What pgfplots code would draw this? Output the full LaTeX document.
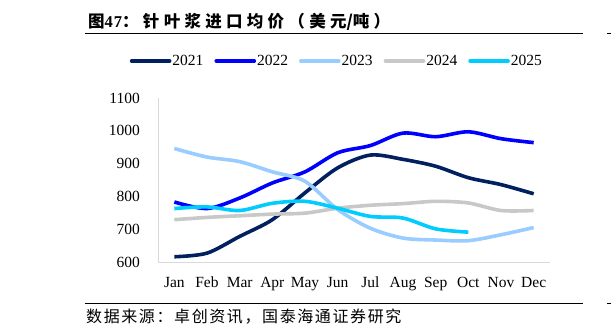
\documentclass[border=0pt]{standalone}
\usepackage{pgfplots}
\pgfplotsset{compat=1.18}
\usepackage{fontspec}
\setmainfont{Liberation Serif}
\newfontfamily\cjk{Noto Sans CJK SC}
\newfontfamily\cjktitle{Noto Sans CJK SC}[LetterSpace=26]
\newfontfamily\cjksrc{Noto Sans CJK SC}[LetterSpace=10]
\newfontfamily\serifwide{Liberation Serif}[LetterSpace=6]

\definecolor{c2021}{HTML}{002060}
\definecolor{c2022}{HTML}{0000FF}
\definecolor{c2023}{HTML}{99CCFF}
\definecolor{c2024}{HTML}{C8C8C8}
\definecolor{c2025}{HTML}{00CCFF}
\definecolor{axgray}{HTML}{D9D9D9}

\begin{document}
\begin{tikzpicture}
\useasboundingbox (0,0) rectangle (611bp,-336bp);

% title and rules
\node[anchor=base west, inner sep=0] at (88bp,-27bp)
  {\fontsize{16.5bp}{18bp}\selectfont\cjktitle\bfseries 图{\serifwide\bfseries 47}：针叶浆进口均价（美元{\cjk\bfseries /}吨）};
\draw[line width=1bp] (85bp,-33bp) -- (583bp,-33bp);
\draw[line width=1bp] (85bp,-303bp) -- (583bp,-303bp);
\draw[line width=1bp] (607bp,-33bp) -- (611bp,-33bp);
\draw[line width=1bp] (607bp,-303bp) -- (611bp,-303bp);
\node[anchor=base west, inner sep=0] at (86bp,-322bp)
  {\fontsize{16bp}{18bp}\selectfont\cjksrc 数据来源：卓创资讯，国泰海通证券研究};

\begin{axis}[
  at={(158bp,-262bp)}, anchor=south west,
  scale only axis, width=392bp, height=164bp,
  xmin=-0.5, xmax=11.5, ymin=600, ymax=1100,
  axis lines*=left,
  axis line style={draw=axgray, line width=1bp, -},
  xtick={0,...,11},
  xticklabels={Jan,Feb,Mar,Apr,May,Jun,Jul,Aug,Sep,Oct,Nov,Dec},
  ytick={600,700,...,1100},
  major tick length=0pt,
  /pgf/number format/assume math mode=true,
  /pgf/number format/1000 sep={},
  tick label style={font=\fontsize{15.5bp}{18bp}\selectfont},
  yticklabel style={anchor=east, inner sep=0pt, xshift=-18bp},
  xticklabel style={anchor=base, inner sep=0pt, yshift=-25bp},
  legend columns=5,
  legend style={at={(0.455,1.2256)}, anchor=center, draw=none, fill=none,
    font=\fontsize{15.5bp}{18bp}\selectfont,
    nodes={inner sep=1bp}, column sep=0bp,
    /tikz/every even column/.append style={column sep=10bp}},
  legend image code/.code={\draw[#1, line width=3.6bp, line cap=round] (0bp,0bp) -- (38bp,0bp);},
  every axis plot/.append style={line width=3.6bp, smooth, no markers},
]
\addplot[c2021] coordinates {(0,616)(1,627)(2,678)(3,729)(4,811)(5,887)(6,926)(7,913)(8,892)(9,857)(10,836)(11,808)};
\addlegendentry{2021}
\addplot[c2022] coordinates {(0,783)(1,763)(2,795)(3,841)(4,875)(5,933)(6,955)(7,993)(8,982)(9,997)(10,976)(11,964)};
\addlegendentry{2022}
\addplot[c2023] coordinates {(0,946)(1,920)(2,906)(3,875)(4,846)(5,760)(6,703)(7,673)(8,667)(9,665)(10,683)(11,705)};
\addlegendentry{2023}
\addplot[c2024] coordinates {(0,729)(1,736)(2,741)(3,746)(4,749)(5,764)(6,773)(7,778)(8,785)(9,780)(10,757)(11,757)};
\addlegendentry{2024}
\addplot[c2025] coordinates {(0,763)(1,768)(2,757)(3,779)(4,785)(5,764)(6,739)(7,734)(8,701)(9,691)};
\addlegendentry{2025}
\end{axis}
\end{tikzpicture}
\end{document}
